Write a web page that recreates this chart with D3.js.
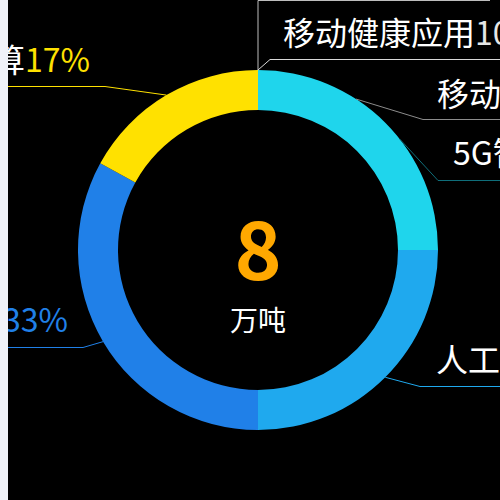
<!DOCTYPE html>
<html>
<head>
<meta charset="utf-8">
<script src="https://cdn.jsdelivr.net/npm/d3@7"></script>
<style>
  html, body { margin: 0; padding: 0; background: #f0f2f8; }
  svg { display: block; }
  text { font-family: "Noto Sans CJK SC", "Noto Sans", sans-serif; }
</style>
</head>
<body>
<svg id="chart" width="500" height="500"></svg>
<script>
// Ring categories and their shares (%)
const ringNames  = ['移动医疗', '人工智能', '大数据', '云计算'];
const ringValues = [25, 25, 33, 17];
const ringColors = ['#1fd5ec', '#1fa9ee', '#2080e8', '#ffe100'];

// Breakdown of the first category (sums to its share)
const subNames  = ['远程会诊', '移动健康应用', '移动问诊', '5G智慧医疗'];
const subValues = [0, 10, 8, 7];
const subColors = ['#bdbdbd', '#d9d9d9', '#8c8c8c', '#0f6e7a'];

// Centre figure
const totalValue = '8';
const totalUnit  = '万吨';

// ---- layout ----
const W = 500, H = 500, stripW = 8;
const cx = 258, cy = 250, outerR = 180, innerR = 140;

const svg = d3.select('#chart');
svg.append('rect').attr('x', stripW).attr('y', 0)
   .attr('width', W - stripW).attr('height', H).attr('fill', '#000');

const plot = svg.append('g');

const pie = d3.pie().sort(null).value(d => d);
const arcs = pie(ringValues);
const arc = d3.arc().innerRadius(innerR).outerRadius(outerR);

plot.append('g').attr('transform', `translate(${cx},${cy})`)
  .selectAll('path').data(arcs).join('path')
  .attr('d', arc)
  .attr('fill', (d, i) => ringColors[i]);

const toPoint = a => [cx + outerR * Math.sin(a), cy - outerR * Math.cos(a)];

// Leader-line placement for each label (bend point, text anchor, side)
const subPlacement = [
  { angleDeg: 0,  bend: [258, 0.5],   tx: 283, ty: -14, end: 490 },
  { angleDeg: 0,  bend: [270, 59.5],  tx: 283, ty: 45,  end: 520 },
  { angleDeg: 33, bend: [423, 119.5], tx: 437, ty: 106, end: 520 },
  { angleDeg: 52, bend: [438, 180.5], tx: 453, ty: 165, end: 520 }
];
const ringPlacement = [
  null,
  { bend: [420, 386.5], tx: 436, ty: 372, end: 520, side: 'right' },
  { bend: [83, 347.5],  tx: 68,  ty: 332, end: -20, side: 'left' },
  { bend: [105, 86.5],  tx: 90,  ty: 72,  end: -20, side: 'left' }
];

const labels = [];
subNames.forEach((name, i) => {
  const p = subPlacement[i];
  labels.push({
    name, pct: subValues[i] + '%', color: subColors[i], textColor: '#fff',
    pctColor: subColors[i] === '#0f6e7a' ? '#1fd5ec' : '#e6e6e6',
    start: toPoint(p.angleDeg * Math.PI / 180),
    bend: p.bend, tx: p.tx, ty: p.ty, end: p.end, side: 'right'
  });
});
arcs.forEach((a, i) => {
  const p = ringPlacement[i];
  if (!p) return;
  labels.push({
    name: ringNames[i], pct: ringValues[i] + '%', color: ringColors[i],
    textColor: '#fff', pctColor: ringColors[i],
    start: toPoint((a.startAngle + a.endAngle) / 2),
    bend: p.bend, tx: p.tx, ty: p.ty, end: p.end, side: p.side
  });
});

const lab = plot.append('g');
labels.forEach(l => {
  const pts = [l.start, l.bend, [l.end, l.bend[1]]];
  lab.append('path')
    .attr('d', d3.line()(pts))
    .attr('fill', 'none')
    .attr('stroke', l.color)
    .attr('stroke-width', 1);
  const t = lab.append('text')
    .attr('x', l.tx).attr('y', l.ty)
    .attr('font-size', 32)
    .attr('text-anchor', l.side === 'left' ? 'end' : 'start');
  t.append('tspan').attr('fill', l.textColor).text(l.name);
  t.append('tspan').attr('fill', l.pctColor).text(l.pct);
});

// Centre value
plot.append('text')
  .attr('x', cx).attr('y', 280)
  .attr('text-anchor', 'middle')
  .attr('font-size', 80).attr('font-weight', 'bold')
  .attr('fill', '#ffa800')
  .text(totalValue);
plot.append('text')
  .attr('x', cx).attr('y', 331)
  .attr('text-anchor', 'middle')
  .attr('font-size', 28)
  .attr('fill', '#fff')
  .text(totalUnit);

// Light margin strip on the left edge
svg.append('rect').attr('x', 0).attr('y', 0)
   .attr('width', stripW).attr('height', H).attr('fill', '#f0f2f8');
</script>
</body>
</html>
